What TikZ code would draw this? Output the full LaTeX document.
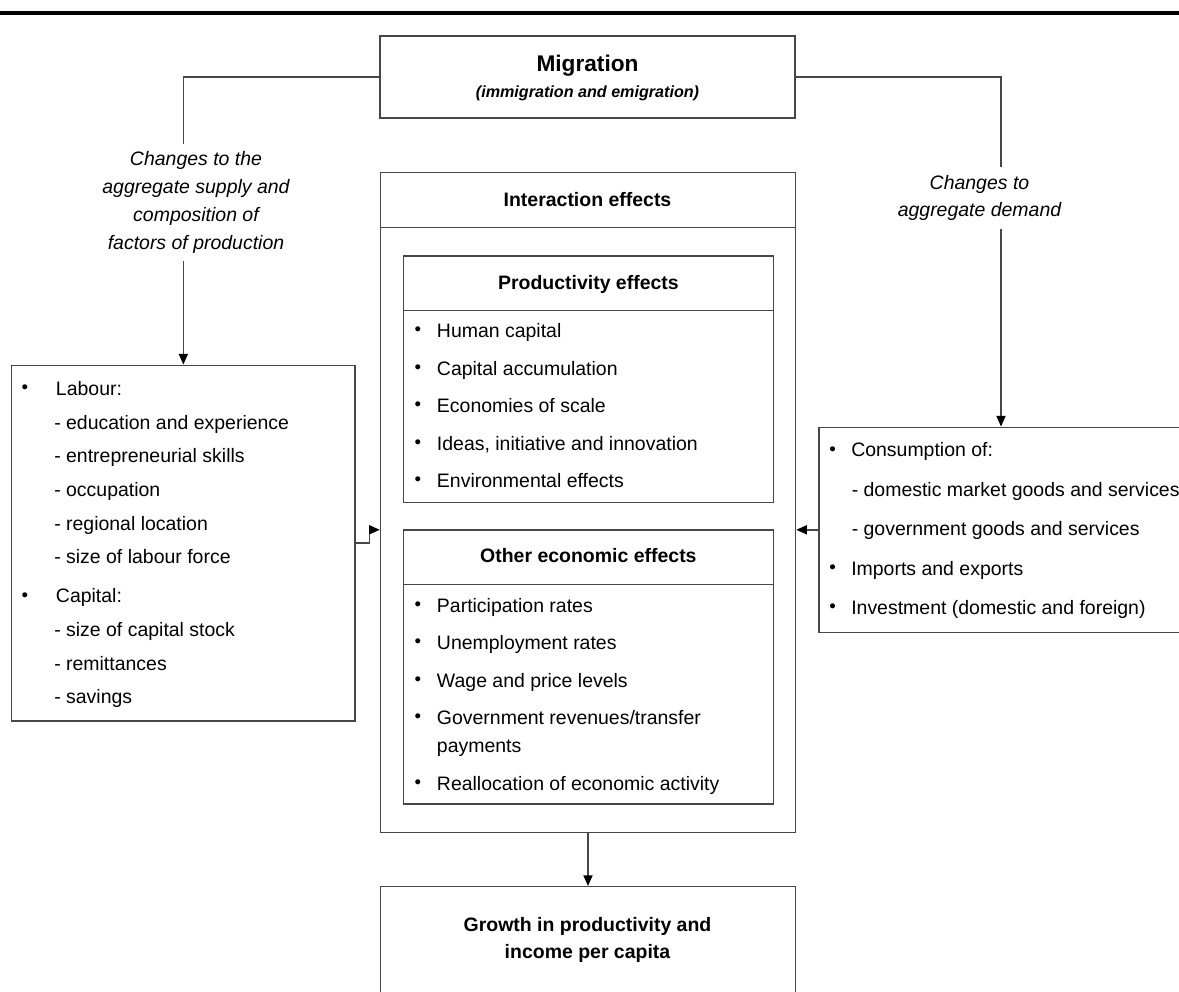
\documentclass[tikz,border=0pt]{standalone}
\usepackage{fontspec}
\setmainfont{Liberation Sans}
\usetikzlibrary{arrows.meta}
\newcommand{\mybox}[5]{\node[box, minimum width={(#4-(#2))*0.75pt}, minimum height={(#5-(#3))*0.75pt}] (#1) at ({(#2+#4)/2},{(#3+#5)/2}) {};}
\newcommand{\tline}[4]{\node[txt] (#1) at (#2,#3) {#4};}
\newcommand{\bul}[3]{\node[bulsty] (#1) at (#2,{#3-1.6}) {•};}
\newcommand{\ttl}[4]{\node[ttlsty] (#1) at (#2,#3) {#4};}
\tikzset{
  box/.style={draw=black!72, line width=1.1pt, inner sep=0pt},
  conn/.style={draw=black!72, line width=1.1pt},
  arr/.style={conn, -{Triangle[length=8pt, width=6.8pt, color=black]}},
  txt/.style={anchor=base west, inner sep=0pt, font=\fontsize{14.6}{17}\selectfont},
  bulsty/.style={anchor=base, inner sep=0pt, font=\fontsize{14}{14}\selectfont},
  ttlsty/.style={anchor=base, inner sep=0pt, font=\bfseries\fontsize{14.6}{17}\selectfont},
  lbl/.style={fill=white, inner xsep=3pt, inner ysep=6pt, align=center, font=\itshape\fontsize{14.6}{20.8}\selectfont},
}
\begin{document}
\begin{tikzpicture}[x=0.75pt,y=-0.75pt]
\clip (0,0) rectangle (1179,992);
\fill[white] (0,0) rectangle (1179,992);
% top rule
\draw[line width=3pt, black] (0,12.5) -- (1179,12.5);

% boxes
\mybox{mig}{380}{36}{795}{118}
\mybox{inter}{380.5}{172.7}{795.5}{832.3}
\mybox{prod}{403.5}{256}{773.3}{502.7}
\mybox{other}{403.5}{530}{773.3}{804}
\mybox{lab}{11.7}{365.3}{355}{721}
\mybox{cons}{819}{427.3}{1183}{632.3}
\mybox{growth}{380.5}{886.7}{795.5}{1010}

% header separators
\draw[conn] (inter.west |- 0,227.7) -- (inter.east |- 0,227.7);
\draw[conn] (prod.west |- 0,310.3) -- (prod.east |- 0,310.3);
\draw[conn] (other.west |- 0,584.3) -- (other.east |- 0,584.3);

% connectors
\draw[arr] (mig.west) -| (lab.north);
\draw[arr] (mig.east) -| (cons.north);
\draw[arr] (lab.east) -- ++(14,0) |- (inter.west |- cons.west);
\draw[arr] (cons.west) -- (inter.east |- cons.west);
\draw[arr] (inter.south) -- (growth.north);

% connector labels
\node[lbl] (lsup) at (196,202.5) {Changes to the\\aggregate supply and\\composition of\\factors of production};
\node[lbl] (ldem) at (979.5,198) {Changes to\\aggregate demand};

% migration
\node[anchor=base, inner sep=0pt, font=\bfseries\fontsize{17}{20}\selectfont] (migt) at (587.5,71.7) {Migration};
\node[anchor=base, inner sep=0pt, font=\bfseries\itshape\fontsize{12.1}{14}\selectfont] (migs) at (587.5,97.5) {(immigration and emigration)};

% titles
\ttl{intt}{587.5}{206.7}{Interaction effects}
\ttl{prodt}{588.4}{289.3}{Productivity effects}
\ttl{othert}{588.4}{562.7}{Other economic effects}
\ttl{grow1}{587.5}{931}{Growth in productivity and}
\ttl{grow2}{587.5}{958.3}{income per capita}

% productivity items
\bul{pb1}{418}{337}\tline{p1}{436.7}{337}{Human capital}
\bul{pb2}{418}{375}\tline{p2}{436.7}{375}{Capital accumulation}
\bul{pb3}{418}{412.5}\tline{p3}{436.7}{412.5}{Economies of scale}
\bul{pb4}{418}{450}\tline{p4}{436.7}{450}{Ideas, initiative and innovation}
\bul{pb5}{418}{487.5}\tline{p5}{436.7}{487.5}{Environmental effects}

% other items
\bul{ob1}{418}{612}\tline{o1}{436.7}{612}{Participation rates}
\bul{ob2}{418}{649.5}\tline{o2}{436.7}{649.5}{Unemployment rates}
\bul{ob3}{418}{687}\tline{o3}{436.7}{687}{Wage and price levels}
\bul{ob4}{418}{724.4}\tline{o4}{436.7}{724.4}{Government revenues/transfer}
\tline{o4b}{436.7}{752.7}{payments}
\bul{ob5}{418}{790}\tline{o5}{436.7}{790}{Reallocation of economic activity}

% labour / capital
\bul{lb1}{25}{395}\tline{l0}{55.7}{395}{Labour:}
\tline{l1}{54}{429}{- education and experience}
\tline{l2}{54}{462.5}{- entrepreneurial skills}
\tline{l3}{54}{496}{- occupation}
\tline{l4}{54}{530}{- regional location}
\tline{l5}{54}{563.5}{- size of labour force}
\bul{lb2}{25}{602.7}\tline{c0}{55.7}{602.7}{Capital:}
\tline{c1}{54}{636.5}{- size of capital stock}
\tline{c2}{54}{670}{- remittances}
\tline{c3}{54}{703.5}{- savings}

% demand
\bul{rb1}{832.7}{456.7}\tline{r0}{851}{456.7}{Consumption of:}
\tline{r1}{851.5}{496}{- domestic market goods and services}
\tline{r2}{851.5}{535}{- government goods and services}
\bul{rb2}{832.7}{575}\tline{r3}{851}{575}{Imports and exports}
\bul{rb3}{832.7}{614}\tline{r4}{851}{614}{Investment (domestic and foreign)}
\end{tikzpicture}
\end{document}
